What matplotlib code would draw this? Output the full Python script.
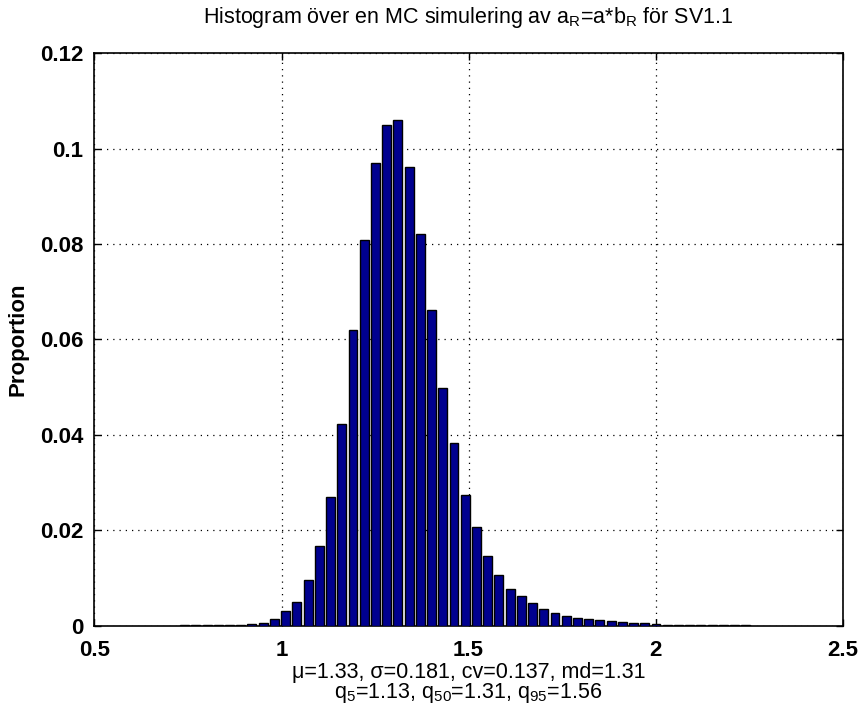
import numpy as np
import matplotlib
matplotlib.use("Agg")
import matplotlib.pyplot as plt

# ---- data ----
bin_start = 0.741      # centre of first bin
bin_width = 0.03
proportion = [0.00005, 0.00005, 0.00005, 0.00005, 0.0001, 0.0002, 0.0004, 0.0006,
              0.0014, 0.0030, 0.0049, 0.0095, 0.0166, 0.0269, 0.0423, 0.0620,
              0.0809, 0.0971, 0.1049, 0.1060, 0.0961, 0.0822, 0.0661, 0.0498,
              0.0384, 0.0274, 0.0206, 0.0146, 0.0106, 0.0076, 0.0063, 0.0048,
              0.0034, 0.0026, 0.0020, 0.0017, 0.0014, 0.0012, 0.0010, 0.0008,
              0.0006, 0.0006, 0.0003, 0.0002, 0.0002, 0.0002, 0.0001, 0.0001,
              0.0001, 0.0001, 0.00005]
xticks = [0.5, 1, 1.5, 2, 2.5]
xticklabels = ["0.5", "1", "1.5", "2", "2.5"]
yticks = [0, 0.02, 0.04, 0.06, 0.08, 0.1, 0.12]
yticklabels = ["0", "0.02", "0.04", "0.06", "0.08", "0.1", "0.12"]
title = "Histogram över en MC simulering av a$_R$=a*b$_R$ för SV1.1"
xlabel = "μ=1.33, σ=0.181, cv=0.137, md=1.31\nq$_5$=1.13, q$_{50}$=1.31, q$_{95}$=1.56"
ylabel = "Proportion"

centers = bin_start + bin_width * np.arange(len(proportion))

plt.rcParams['font.family'] = ['Liberation Sans', 'DejaVu Sans']
plt.rcParams['mathtext.fontset'] = 'custom'
plt.rcParams['mathtext.rm'] = 'Liberation Sans'
plt.rcParams['mathtext.default'] = 'regular'

fig = plt.figure(figsize=(8.59, 7.2), dpi=100)
ax = fig.add_axes([0.110, 0.131, 0.871, 0.795])

ax.bar(centers, proportion, width=bin_width * 0.8, color=(0, 0, 0.5625),
       edgecolor='black', linewidth=1.0, zorder=3)

ax.set_xlim(0.5, 2.5)
ax.set_ylim(0, 0.12)
ax.set_xticks(xticks)
ax.set_xticklabels(xticklabels)
ax.set_yticks(yticks)
ax.set_yticklabels(yticklabels)
ax.tick_params(axis='both', direction='in', top=True, right=True, length=5, width=1,
               labelsize=16)
ax.tick_params(axis='x', pad=10)
ax.tick_params(axis='y', pad=8)
for lab in ax.get_xticklabels() + ax.get_yticklabels():
    lab.set_fontweight('bold')
ax.grid(True, linestyle=(0, (1, 4)), color='black', linewidth=0.9, zorder=0)
for s in ax.spines.values():
    s.set_linewidth(1.2)

ax.set_title(title, fontsize=15.5, pad=22)
ax.set_xlabel(xlabel, fontsize=15.5, linespacing=0.9, labelpad=1)
ax.set_ylabel(ylabel, fontsize=16, fontweight='bold', labelpad=8)

fig.savefig("out.png", dpi=100)
